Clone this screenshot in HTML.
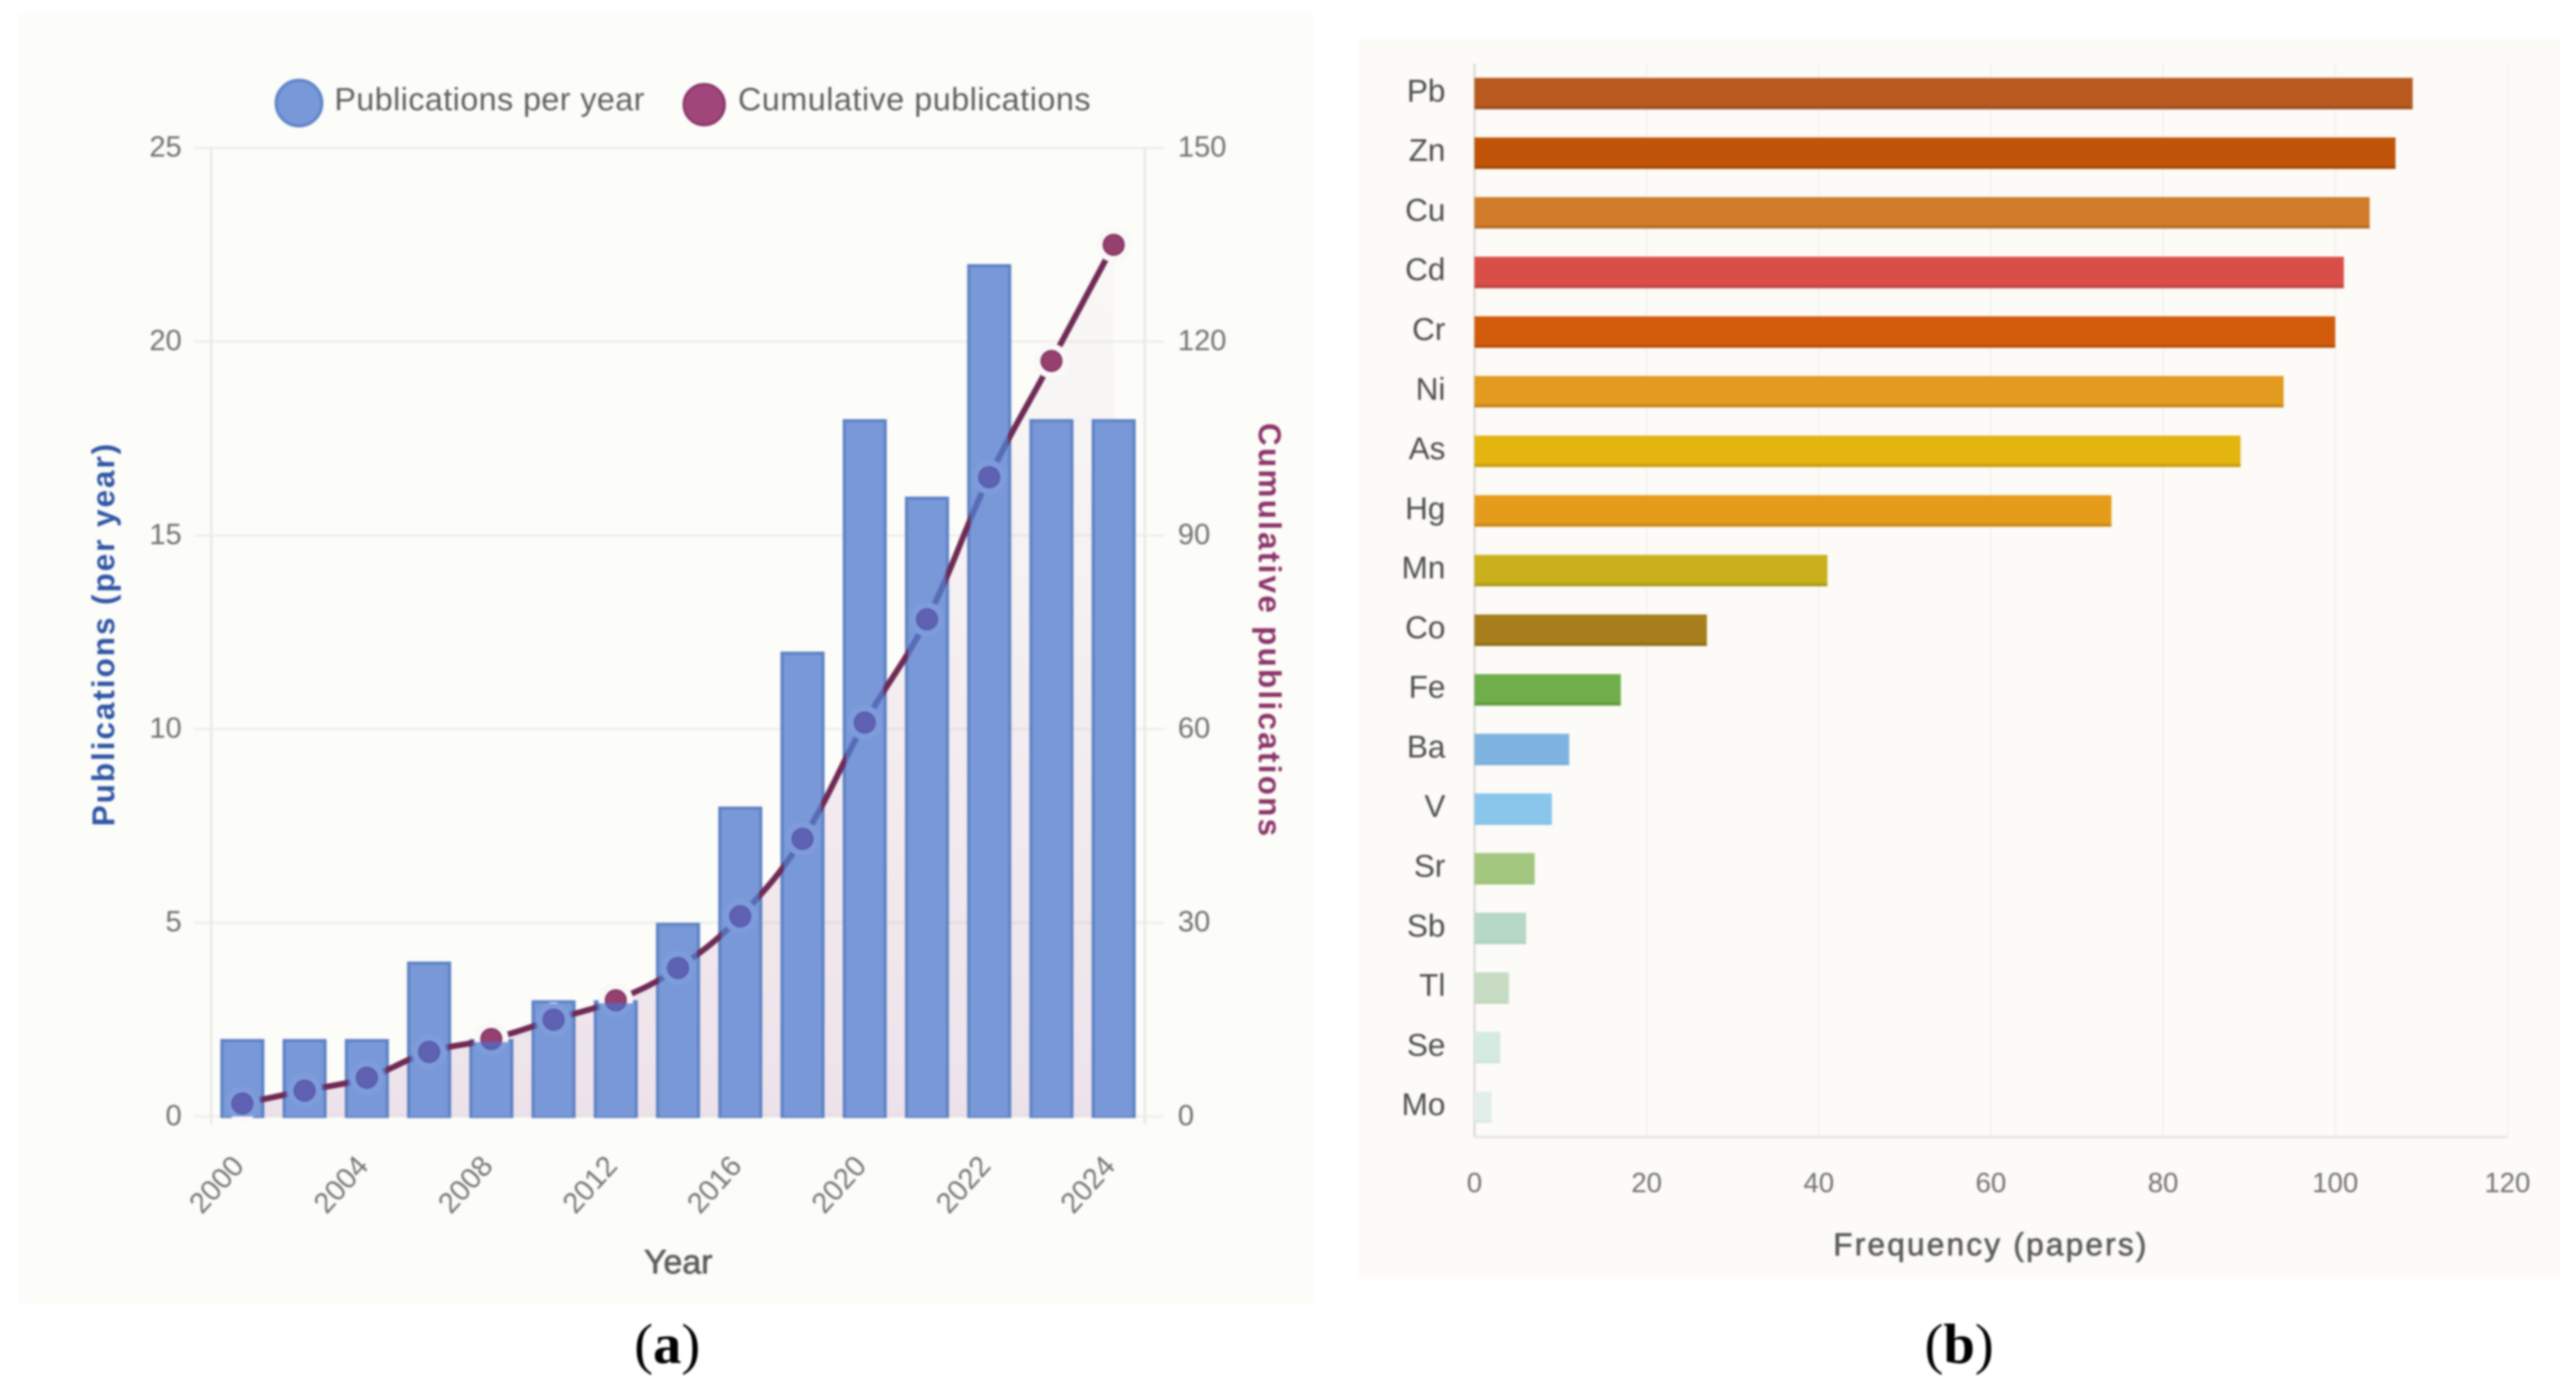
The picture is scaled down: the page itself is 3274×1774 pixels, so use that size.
<!DOCTYPE html>
<html lang="en">
<head>
<meta charset="utf-8">
<title>Publications and heavy metal frequency charts</title>
<style>
html,body{margin:0;padding:0;background:#fff;width:3274px;height:1774px;overflow:hidden}
svg{display:block;filter:blur(1.2px)}
text{font-family:"Liberation Sans",sans-serif}
.cap{font-family:"Liberation Serif",serif;font-size:72px;fill:#000}
</style>
</head>
<body>
<svg id="fig" xmlns="http://www.w3.org/2000/svg" width="3274" height="1774" viewBox="0 0 3274 1774">
  <defs>
    <linearGradient id="areaFade" x1="0" y1="0" x2="0" y2="1">
      <stop offset="0" stop-color="#a05a9a" stop-opacity="0.02"/>
      <stop offset="0.45" stop-color="#a05a9a" stop-opacity="0.08"/>
      <stop offset="1" stop-color="#a05a9a" stop-opacity="0.16"/>
    </linearGradient>
  </defs>
  <rect x="24" y="17" width="1646" height="1640" fill="#fcfcf9"/>
  <rect x="1727" y="49" width="1527" height="1576" fill="#fcfbf7"/>
  <g id="a"></g>
  <g id="b"></g>

  <circle cx="380" cy="131" r="29" fill="#7898d8" stroke="#5f86c8" stroke-width="4"/>
  <text x="425" y="140" font-size="41" fill="#5e5e5e" textLength="394">Publications per year</text>
  <circle cx="895" cy="133" r="26" fill="#a0467a" stroke="#8a3468" stroke-width="3"/>
  <text x="938" y="140" font-size="41" fill="#5e5e5e" textLength="448">Cumulative publications</text>

  <text transform="translate(145,807) rotate(-90)" text-anchor="middle" font-size="40" font-weight="bold" fill="#2f55a4" textLength="486">Publications (per year)</text>
  <text transform="translate(1600,800) rotate(90)" text-anchor="middle" font-size="40" font-weight="bold" fill="#8a3468" textLength="525">Cumulative publications</text>
  <text x="862" y="1618" text-anchor="middle" font-size="43" fill="#5c5c5c" stroke="#5c5c5c" stroke-width="0.9">Year</text>
  <text x="2529" y="1595" text-anchor="middle" font-size="40" fill="#5c5c5c" stroke="#5c5c5c" stroke-width="0.9" textLength="398">Frequency (papers)</text>

  <text class="cap" x="848" y="1732" text-anchor="middle">(<tspan font-weight="bold">a</tspan>)</text>
  <text class="cap" x="2490" y="1732" text-anchor="middle">(<tspan font-weight="bold">b</tspan>)</text>
</svg>

<script>
// Panel (a) data
const years = [2000,2002,2004,2006,2008,2010,2012,2014,2016,2018,2020,2021,2022,2023,2024];
const perYear = [2,2,2,4,2,3,3,5,8,12,18,16,22,18,18];
const cumulative = [2,4,6,10,12,15,18,23,31,43,61,77,99,117,135];
const leftTicks = [0,5,10,15,20,25];
const rightTicks = [0,30,60,90,120,150];

// Panel (b) data
const metals = ["Pb","Zn","Cu","Cd","Cr","Ni","As","Hg","Mn","Co","Fe","Ba","V","Sr","Sb","Tl","Se","Mo"];
const frequency = [109,107,104,101,100,94,89,74,41,27,17,11,9,7,6,4,3,2];
const metalColors = ["#b85a20","#c05408","#d07c2a","#d94f47","#d25c0c","#e29a1f","#e4b40f","#e49c1a","#c9b01c","#a67e1c","#6fae4b","#7fb3df","#8ac6ec","#a3c77f","#b6d8c6","#c7dcc2","#d5ebdf","#e2eeea"];
const freqTicks = [0,20,40,60,80,100,120];

const NS = "http://www.w3.org/2000/svg";
function mk(parent, tag, attrs, txt) {
  const el = document.createElementNS(NS, tag);
  for (const k in attrs) el.setAttribute(k, attrs[k]);
  if (txt !== undefined) el.textContent = txt;
  parent.appendChild(el);
  return el;
}

/* ---------- Panel A ---------- */
const A = document.getElementById("a");
const aLeft = 268.5, aRight = 1455, aY0 = 1418.8, aY25 = 188;
const band = (aRight - aLeft) / years.length;
const barW = 56;
const xA = i => aLeft + band * (i + 0.5);
const yL = v => aY0 + (aY25 - aY0) * v / 25;
const yR = v => aY0 + (aY25 - aY0) * v / 150;

leftTicks.forEach(t => {
  const g = mk(A, "line", {x1: 247, x2: 1480, y1: yL(t), y2: yL(t), stroke: "#efefeb", "stroke-width": 3});
  
  
  const l = mk(A, "text", {x: 231, y: yL(t) + 11, "text-anchor": "end", "font-size": 37, fill: "#707070"}, t);
  
  
});
rightTicks.forEach(t => {
  const l = mk(A, "text", {x: 1497, y: yR(t) + 11, "font-size": 37, fill: "#707070"}, t);
  
  
});
[aLeft, aRight].forEach(x => {
  const v = mk(A, "line", {x1: x, x2: x, y1: aY25, y2: aY0 + 10, stroke: "#e8e8e5", "stroke-width": 3});
  
  
});

// Smooth curve through the cumulative series
function curve() {
  const p = cumulative.map((v, i) => [xA(i), yR(v)]);
  const tension = 0.4;
  let d = "M" + p[0][0] + " " + p[0][1];
  const ctrl = p.map((c, i) => {
    const a = p[Math.max(i - 1, 0)], b = p[Math.min(i + 1, p.length - 1)];
    const d1 = Math.hypot(c[0] - a[0], c[1] - a[1]), d2 = Math.hypot(b[0] - c[0], b[1] - c[1]);
    const s = d1 + d2 || 1;
    const f1 = tension * d1 / s, f2 = tension * d2 / s;
    return {
      px: c[0] - f1 * (b[0] - a[0]), py: c[1] - f1 * (b[1] - a[1]),
      nx: c[0] + f2 * (b[0] - a[0]), ny: c[1] + f2 * (b[1] - a[1])
    };
  });
  for (let i = 1; i < p.length; i++) {
    d += " C" + ctrl[i - 1].nx + " " + ctrl[i - 1].ny + " " + ctrl[i].px + " " + ctrl[i].py + " " + p[i][0] + " " + p[i][1];
  }
  return d;
}
const linePath = curve();

const area = mk(A, "path", {
  d: linePath + " L" + xA(years.length - 1) + " " + aY0 + " L" + xA(0) + " " + aY0 + " Z",
  fill: "url(#areaFade)"
});



const clip = mk(A, "clipPath", {id: "barsClip"});
perYear.forEach((v, i) => {
  const bar = mk(A, "rect", {
    x: xA(i) - barW / 2 + 2, y: yL(v) + 2, width: barW - 4, height: aY0 - yL(v) - 2,
    fill: "#7898d8", stroke: "#5f82c4", "stroke-width": 4
  });
  
  
  mk(clip, "rect", {x: xA(i) - barW / 2 + 4, y: yL(v) + 4, width: barW - 8, height: aY0 - yL(v) - 4});
});

function overlay(lineColor, markerColor, edgeColor, haloColor, clipped, lineOpacity) {
  const g = mk(A, "g", clipped ? {"clip-path": "url(#barsClip)"} : {});
  
  
  if (clipped) {
    perYear.forEach((v, i) => {
      const cover = mk(g, "rect", {x: xA(i) - barW / 2, y: yL(v), width: barW, height: aY0 - yL(v), fill: "#7898d8"});
      
      
    });
  }
  const ln = mk(g, "path", {d: linePath, fill: "none", stroke: lineColor, "stroke-width": 7.5, "stroke-opacity": lineOpacity});
  
  
  cumulative.forEach((v, i) => {
    const h = mk(g, "circle", {cx: xA(i), cy: yR(v), r: 22, fill: haloColor});
    
    
  });
  cumulative.forEach((v, i) => {
    const c = mk(g, "circle", {cx: xA(i), cy: yR(v), r: 13, fill: markerColor, stroke: edgeColor, "stroke-width": 2});
    
    
  });
}
overlay("#6e2a55", "#96406f", "#7c2f5f", "#fbf8f8", false, 1);
overlay("#4a58a8", "#5f62b2", "#5458a8", "#7e9cdb", true, 0.7);

years.forEach((y, i) => {
  if (i % 2) return;
  const t = mk(A, "text", {
    transform: "translate(" + (xA(i) - 31) + ",1507) rotate(-48)",
    "text-anchor": "middle", "dominant-baseline": "middle", "font-size": 37, fill: "#767676"
  }, y);
  
  
});

/* ---------- Panel B ---------- */
const B = document.getElementById("b");
const bX0 = 1874, bPerUnit = 10.94, bTop = 81, bBottom = 1445;
const xB = v => bX0 + bPerUnit * v;
const rowH = (bBottom - bTop) / metals.length;
const yB = i => bTop + rowH * (i + 0.5);
const bBarH = 40;

freqTicks.forEach(t => {
  const g = mk(B, "line", {x1: xB(t), x2: xB(t), y1: bTop, y2: bBottom, stroke: t === 0 ? "#dcdcd8" : "#f3f2ee", "stroke-width": t === 0 ? 3 : 2});
  
  
  const l = mk(B, "text", {x: xB(t), y: 1515, "text-anchor": "middle", "font-size": 35, fill: "#707070"}, t);
  
  
});
const xAxisB = mk(B, "line", {x1: bX0, x2: xB(120), y1: bBottom, y2: bBottom, stroke: "#e4e4e0", "stroke-width": 3});



metals.forEach((m, i) => {
  const r = mk(B, "rect", {
    x: bX0, y: yB(i) - bBarH / 2, width: xB(frequency[i]) - bX0, height: bBarH,
    fill: metalColors[i]
  });
  
  
  const e = mk(B, "rect", {
    x: bX0, y: yB(i) + bBarH / 2 - 4, width: xB(frequency[i]) - bX0, height: 4,
    fill: "#000", "fill-opacity": i < 11 ? 0.12 : 0.02
  });
  
  
  const l = mk(B, "text", {x: 1837, y: yB(i) + 10, "text-anchor": "end", "font-size": 40, fill: "#4c4c4c"}, m);
  
  
});
</script>
</body>
</html>
